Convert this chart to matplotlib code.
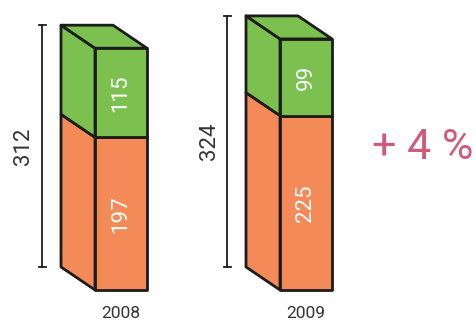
import numpy as np
import matplotlib.pyplot as plt
from matplotlib.patches import Polygon

# values per year: lower (orange) and upper (green) parts of each column
years = ['2008', '2009']
lower = [197, 225]
upper = [115, 99]
totals = [312, 324]
change_label = '+ 4 %'

green = '#7cc150'
orange = '#f58a59'
edge = '#1c1c1c'
text_dark = '#333333'
pink = '#cf5a7a'

plt.rcParams['font.family'] = ['Roboto', 'DejaVu Sans']

fig = plt.figure(figsize=(4.76, 3.23), dpi=100)
ax = fig.add_axes([0, 0, 1, 1])
ax.set_xlim(0, 476)
ax.set_ylim(-42.6, 374.2)
ax.axis('off')

x0, gap, w = 95, 185, 52     # front face left edge, column spacing, width
dx, dy = -34, 29.7           # depth of the box (back face shift)


def face(pts, color):
    ax.add_patch(Polygon(pts, closed=True, facecolor=color, edgecolor=edge,
                         lw=2, joinstyle='round'))


for i, year in enumerate(years):
    x = x0 + i * gap
    lo, tot = lower[i], totals[i]

    # side faces
    face([(x, 0), (x + dx, dy), (x + dx, lo + dy), (x, lo)], orange)
    face([(x, lo), (x + dx, lo + dy), (x + dx, tot + dy), (x, tot)], green)
    # top face
    face([(x, tot), (x + dx, tot + dy), (x + w + dx, tot + dy), (x + w, tot)], green)
    # front faces
    face([(x, 0), (x + w, 0), (x + w, lo), (x, lo)], orange)
    face([(x, lo), (x + w, lo), (x + w, tot), (x, tot)], green)

    # values inside the front faces
    ax.text(x + w / 2, lo / 2, str(lower[i]), rotation=90, color='white',
            fontsize=16, ha='center', va='center')
    ax.text(x + w / 2, lo + upper[i] / 2, str(upper[i]), rotation=90,
            color='white', fontsize=16, ha='center', va='center')

    # bracket showing the total
    xb = x + dx - 19
    ax.plot([xb, xb], [dy, tot + dy], color=edge, lw=1.3)
    for yy in (dy, tot + dy):
        ax.plot([xb - 3.5, xb + 3.5], [yy, yy], color=edge, lw=1.3)
    ax.text(xb - 18, dy + tot / 2, str(tot), rotation=90, color=text_dark,
            fontsize=16, ha='center', va='center')

    ax.text(x + w / 2, -29.7, year, color=text_dark, fontsize=12.5,
            ha='center', va='center')

ax.text(423, 184.5, change_label, color=pink, fontsize=31,
        ha='center', va='center')

fig.savefig('out.png', dpi=100)
